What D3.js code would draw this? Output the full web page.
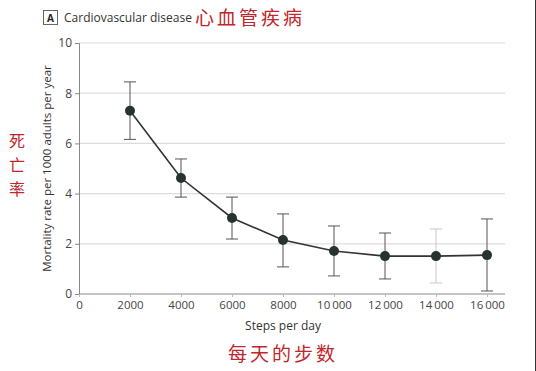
<!DOCTYPE html>
<html>
<head>
<meta charset="utf-8">
<script src="https://cdn.jsdelivr.net/npm/d3@7"></script>
<style>
  body { margin: 0; background: #fff; }
  text { font-family: "Open Sans", "Noto Sans", sans-serif; }
</style>
</head>
<body>
<script>
// Data
const steps = [2000, 4000, 6000, 8000, 10000, 12000, 14000, 16000];
const rate = [7.3, 4.62, 3.03, 2.15, 1.71, 1.51, 1.51, 1.55];
const lower = [6.16, 3.86, 2.19, 1.08, 0.72, 0.6, 0.44, 0.12];
const upper = [8.45, 5.38, 3.86, 3.19, 2.71, 2.43, 2.59, 2.99];
const xTicks = [0, 2000, 4000, 6000, 8000, 10000, 12000, 14000, 16000];
const yTicks = [0, 2, 4, 6, 8, 10];

const width = 536;
const height = 371;
const margin = { left: 79, top: 43, right: 31, bottom: 77 };

const svg = d3.select("body")
  .append("svg")
  .attr("width", width)
  .attr("height", height);

const x = d3.scaleLinear().domain([0, 16000]).range([margin.left, 487]);
const y = d3.scaleLinear().domain([0, 10]).range([height - margin.bottom, margin.top]);
const xEnd = width - margin.right;

// format like "10 000" with thin space for 5-digit numbers
const fmtX = (d) => d >= 10000 ? d3.format(",")(d).replace(",", "\u2009") : String(d);

// grid lines
svg.append("g")
  .selectAll("line")
  .data(yTicks.filter((d) => d > 0))
  .join("line")
  .attr("x1", margin.left)
  .attr("x2", xEnd)
  .attr("y1", (d) => y(d))
  .attr("y2", (d) => y(d))
  .attr("stroke", "#dcdcdc")
  .attr("stroke-width", 1.2);

// axes
const yAxis = svg.append("g")
  .attr("transform", `translate(${margin.left},0)`)
  .call(d3.axisLeft(y).tickValues(yTicks).tickSize(4).tickPadding(3));
yAxis.select(".domain").attr("stroke", "#888");
yAxis.selectAll(".tick line").attr("stroke", "#888");
yAxis.selectAll("text").attr("fill", "#444").style("font-size", "12px");

const xAxis = svg.append("g")
  .attr("transform", `translate(0,${y(0)})`)
  .call(d3.axisBottom(x).tickValues(xTicks).tickFormat(fmtX).tickSize(3).tickPadding(4));
xAxis.select(".domain").attr("d", `M${margin.left},0H${xEnd}`).attr("stroke", "#888");
xAxis.selectAll(".tick line").attr("stroke", "#bbb");
xAxis.selectAll("text").attr("fill", "#444").style("font-size", "11.5px");

// error bars
const eb = svg.append("g")
  .selectAll("g")
  .data(steps.map((s, i) => ({ s, lo: lower[i], hi: upper[i] })))
  .join("g")
  .attr("stroke", (d) => d.s === 14000 ? "#c8c8c8" : "#555")
  .attr("stroke-width", 1);
eb.append("line")
  .attr("x1", (d) => x(d.s)).attr("x2", (d) => x(d.s))
  .attr("y1", (d) => y(d.lo)).attr("y2", (d) => y(d.hi));
eb.append("line")
  .attr("x1", (d) => x(d.s) - 6).attr("x2", (d) => x(d.s) + 6)
  .attr("y1", (d) => y(d.hi)).attr("y2", (d) => y(d.hi));
eb.append("line")
  .attr("x1", (d) => x(d.s) - 6).attr("x2", (d) => x(d.s) + 6)
  .attr("y1", (d) => y(d.lo)).attr("y2", (d) => y(d.lo));

// line
const line = d3.line()
  .x((d, i) => x(steps[i]))
  .y((d) => y(d));
svg.append("path")
  .datum(rate)
  .attr("d", line)
  .attr("fill", "none")
  .attr("stroke", "#333")
  .attr("stroke-width", 1.6);

// points
svg.append("g")
  .selectAll("circle")
  .data(rate)
  .join("circle")
  .attr("cx", (d, i) => x(steps[i]))
  .attr("cy", (d) => y(d))
  .attr("r", 5)
  .attr("fill", "#273330");

// panel label
svg.append("rect")
  .attr("x", 43.5).attr("y", 10.5)
  .attr("width", 14).attr("height", 14)
  .attr("fill", "none")
  .attr("stroke", "#666");
svg.append("text")
  .attr("x", 50.5).attr("y", 21.5)
  .attr("text-anchor", "middle")
  .attr("fill", "#222")
  .style("font-size", "10px")
  .style("font-weight", "bold")
  .text("A");
svg.append("text")
  .attr("x", 64).attr("y", 21.5)
  .attr("fill", "#333")
  .style("font-size", "12px")
  .text("Cardiovascular disease");

// axis titles
svg.append("text")
  .attr("transform", `translate(51,${y(5)}) rotate(-90)`)
  .attr("text-anchor", "middle")
  .attr("fill", "#333")
  .style("font-size", "11.5px")
  .text("Mortality rate per 1000 adults per year");
svg.append("text")
  .attr("x", x(8000)).attr("y", 330)
  .attr("text-anchor", "middle")
  .attr("fill", "#333")
  .style("font-size", "12px")
  .text("Steps per day");

// red Chinese annotations
const red = "#c0272d";
svg.append("text")
  .attr("x", 195).attr("y", 25)
  .attr("fill", red)
  .style("font-family", "'Noto Sans CJK SC'")
  .style("font-size", "19px")
  .style("letter-spacing", "3px")
  .text("心血管疾病");
svg.append("text")
  .attr("x", x(8000)).attr("y", 361)
  .attr("text-anchor", "middle")
  .attr("fill", red)
  .style("font-family", "'Noto Sans CJK SC'")
  .style("font-size", "19px")
  .style("letter-spacing", "3px")
  .text("每天的步数");
svg.append("g")
  .selectAll("text")
  .data(["死", "亡", "率"])
  .join("text")
  .attr("x", 17).attr("y", (d, i) => 147 + i * 24)
  .attr("text-anchor", "middle")
  .attr("fill", red)
  .style("font-family", "'Noto Sans CJK SC'")
  .style("font-size", "16px")
  .text((d) => d);

// right edge border
svg.append("line")
  .attr("x1", 535.5).attr("x2", 535.5)
  .attr("y1", 0).attr("y2", height)
  .attr("stroke", "#333");
</script>
</body>
</html>
